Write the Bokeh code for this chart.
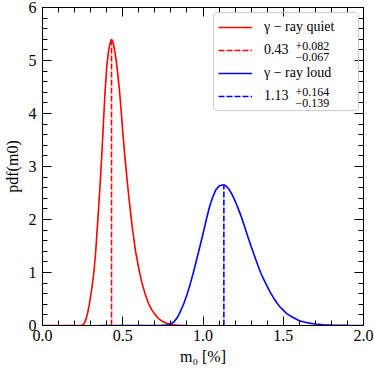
from bokeh.plotting import figure
from bokeh.models import Range1d, FixedTicker, LinearAxis, Legend, LegendItem, Label
from bokeh.embed import file_html
from bokeh.resources import INLINE

# ---------------- data ----------------
red_x = [0.00, 0.24, 0.25, 0.26, 0.27, 0.28, 0.29, 0.30, 0.31, 0.32, 0.33, 0.34, 0.35,
         0.36, 0.37, 0.38, 0.39, 0.40, 0.41, 0.42, 0.43, 0.44, 0.45, 0.46, 0.47, 0.48,
         0.49, 0.50, 0.51, 0.52, 0.53, 0.54, 0.56, 0.58, 0.60, 0.62, 0.64, 0.66, 0.68,
         0.70, 0.72, 0.74, 0.76, 0.78, 0.80, 0.85, 0.90]
red_y = [0.00, 0.00, 0.01, 0.04, 0.11, 0.22, 0.37, 0.56, 0.76, 1.00, 1.33, 1.78, 2.24,
         2.72, 3.25, 3.85, 4.42, 4.87, 5.15, 5.32, 5.40, 5.34, 5.18, 4.98, 4.72, 4.42,
         4.05, 3.66, 3.30, 2.97, 2.66, 2.37, 1.83, 1.40, 1.07, 0.80, 0.59, 0.42, 0.30,
         0.21, 0.14, 0.09, 0.06, 0.035, 0.02, 0.005, 0.00]

blue_x = [0.35, 0.70, 0.74, 0.76, 0.78, 0.80, 0.82, 0.84, 0.86, 0.88, 0.90, 0.92, 0.94,
          0.96, 0.98, 1.00, 1.02, 1.04, 1.06, 1.08, 1.10, 1.12, 1.13, 1.14, 1.16, 1.18,
          1.20, 1.22, 1.24, 1.26, 1.28, 1.30, 1.32, 1.34, 1.36, 1.38, 1.40, 1.42, 1.44,
          1.46, 1.48, 1.50, 1.52, 1.55, 1.60, 1.65, 1.70, 1.75, 1.80, 1.90, 2.00]
blue_y = [0.00, 0.00, 0.002, 0.006, 0.014, 0.03, 0.07, 0.15, 0.27, 0.41, 0.58, 0.78, 1.00,
          1.24, 1.48, 1.73, 1.99, 2.23, 2.42, 2.56, 2.63, 2.65, 2.65, 2.64, 2.58, 2.48,
          2.35, 2.20, 2.04, 1.86, 1.67, 1.49, 1.32, 1.15, 0.99, 0.86, 0.74, 0.62, 0.52,
          0.43, 0.35, 0.29, 0.23, 0.17, 0.09, 0.05, 0.027, 0.014, 0.007, 0.002, 0.00]

medians = [0.43, 1.13]
median_pdf = [5.40, 2.65]
err_plus = ["+0.082", "+0.164"]
err_minus = ["\u22120.067", "\u22120.139"]
median_labels = ["0.43", "1.13"]
series_names = ["\u03b3 \u2212 ray quiet", "\u03b3 \u2212 ray loud"]
colors = ["#ff0000", "#0000ff"]

x_ticks = [0.0, 0.5, 1.0, 1.5, 2.0]
x_tick_labels = ["0.0", "0.5", "1.0", "1.5", "2.0"]
x_minor = [0.1, 0.2, 0.3, 0.4, 0.6, 0.7, 0.8, 0.9, 1.1, 1.2, 1.3, 1.4, 1.6, 1.7, 1.8, 1.9]
y_ticks = [0, 1, 2, 3, 4, 5, 6]
y_tick_labels = ["0", "1", "2", "3", "4", "5", "6"]
y_minor = [0.2, 0.4, 0.6, 0.8, 1.2, 1.4, 1.6, 1.8, 2.2, 2.4, 2.6, 2.8, 3.2, 3.4, 3.6, 3.8,
           4.2, 4.4, 4.6, 4.8, 5.2, 5.4, 5.6, 5.8]

# ---------------- layout ----------------
FONT = "Liberation Serif"
W, H = 374, 368
BL, BR, BT, BB = 41, 11, 7, 43
FW = W - BL - BR
FH = H - BT - BB

p = figure(width=W, height=H, output_backend="svg", toolbar_location=None,
           x_range=Range1d(0, 2), y_range=Range1d(0, 6),
           min_border_left=BL, min_border_right=BR, min_border_top=BT, min_border_bottom=BB,
           x_axis_label="m\u2080 [%]", y_axis_label="pdf(m0)")
p.grid.visible = False
p.outline_line_color = "black"
p.outline_line_alpha = 1.0
p.outline_line_width = 1
p.background_fill_color = "white"
p.border_fill_color = "white"


def style_axis(ax, ticks, minor, labels, show):
    ax.ticker = FixedTicker(ticks=ticks, minor_ticks=minor)
    ax.major_tick_in = 9
    ax.major_tick_out = 0
    ax.minor_tick_in = 5
    ax.minor_tick_out = 0
    ax.major_tick_line_color = "black"
    ax.minor_tick_line_color = "black"
    ax.major_tick_line_width = 1
    ax.minor_tick_line_width = 1
    ax.axis_line_color = "black"
    ax.axis_line_width = 1
    if show:
        ax.major_label_overrides = {t: l for t, l in zip(ticks, labels)}
        ax.major_label_text_font = FONT
        ax.major_label_text_font_size = "16px"
        ax.major_label_text_color = "black"
        ax.axis_label_text_font = FONT
        ax.axis_label_text_font_size = "16px"
        ax.axis_label_text_font_style = "normal"
        ax.axis_label_text_color = "black"
    else:
        ax.major_label_text_font_size = "1px"
        ax.major_label_text_color = None
        ax.major_label_standoff = 0
        ax.axis_label = None


style_axis(p.xaxis[0], x_ticks, x_minor, x_tick_labels, True)
style_axis(p.yaxis[0], y_ticks, y_minor, y_tick_labels, True)
p.xaxis[0].major_label_standoff = 4
p.xaxis[0].axis_label_standoff = 4
p.yaxis[0].major_label_standoff = 6
p.yaxis[0].axis_label_standoff = 5

top_ax = LinearAxis()
style_axis(top_ax, x_ticks, x_minor, x_tick_labels, False)
p.add_layout(top_ax, "above")
right_ax = LinearAxis()
style_axis(right_ax, y_ticks, y_minor, y_tick_labels, False)
p.add_layout(right_ax, "right")

# ---------------- curves ----------------
r_red = p.line(red_x, red_y, line_color=colors[0], line_width=1.6)
r_blue = p.line(blue_x, blue_y, line_color=colors[1], line_width=1.6)
r_red_m = p.line([medians[0], medians[0]], [0, median_pdf[0]], line_color=colors[0],
                 line_width=1.6, line_dash="6 2")
r_blue_m = p.line([medians[1], medians[1]], [0, median_pdf[1]], line_color=colors[1],
                  line_width=1.6, line_dash="6 2")

# ---------------- legend ----------------
PAD, GW, GH, LH, SP, STAND, LW = 4, 34, 20, 20, 3, 12, 90
LEG_W = 2 * PAD + GW + STAND + LW
LEG_TOP = 7
LX = FW - 7 - LEG_W
LEG_H = 2 * PAD + 4 * LH + 3 * SP
LY = FH - LEG_TOP - LEG_H

items = [
    LegendItem(label=series_names[0], renderers=[r_red]),
    LegendItem(label=median_labels[0], renderers=[r_red_m]),
    LegendItem(label=series_names[1], renderers=[r_blue]),
    LegendItem(label=median_labels[1], renderers=[r_blue_m]),
]
legend = Legend(items=items, location=(LX, LY), padding=PAD, spacing=SP,
                glyph_width=GW, glyph_height=GH, label_height=LH, label_width=LW,
                label_standoff=STAND,
                label_text_font=FONT, label_text_font_size="14px", label_text_color="black",
                border_line_color="#cccccc", border_line_width=1, border_line_alpha=1.0,
                background_fill_color="white", background_fill_alpha=0.0, margin=0)
if "border_radius" in Legend.properties():
    legend.border_radius = 4
p.add_layout(legend)

for i in range(2):
    row = 2 * i + 1
    row_c = PAD + row * (LH + SP) + LH / 2
    sx = LX + PAD + GW + STAND + 32
    for txt, dy in ((err_plus[i], -5.5), (err_minus[i], 5.5)):
        p.add_layout(Label(x=sx, y=FH - LEG_TOP - (row_c + dy), x_units="screen",
                           y_units="screen", text=txt, text_font=FONT,
                           text_font_size="12px", text_baseline="middle",
                           text_align="left", text_color="black", level="overlay"))

open("out.html", "w").write(file_html(p, INLINE))
